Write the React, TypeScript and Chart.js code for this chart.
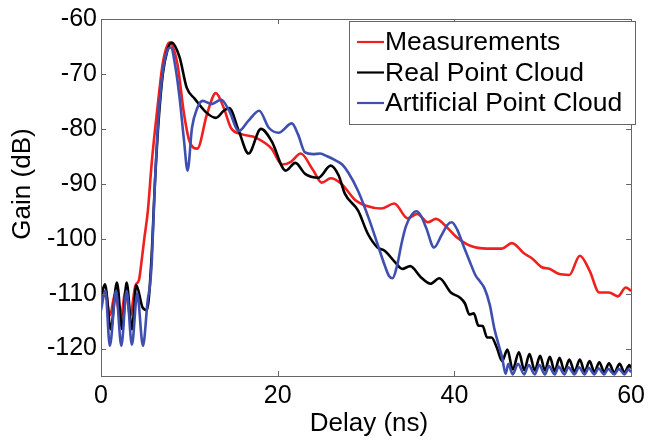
import React, { useEffect, useRef } from "react";
import { Chart, registerables } from "chart.js";

Chart.register(...registerables);

const seriesNames = ["Measurements", "Real Point Cloud", "Artificial Point Cloud"];
const seriesColors = ["#f0201e", "#000000", "#3f4fb0"];

const xTicks = [0, 20, 40, 60];
const yTicks = [-120, -110, -100, -90, -80, -70, -60];

const measT = [0, 0.5, 1.0, 1.6, 2.2, 2.8, 3.3, 3.9, 4.3, 4.6, 4.9, 5.3, 5.75, 6.4, 7.0, 7.75, 8.65, 9.4, 10.0, 10.9, 12.0, 13.0, 13.9, 14.7, 16.0, 17.5, 19.3, 20.5, 21.5, 22.6, 24.0, 25.0, 26.0, 27.2, 28.8, 30.0, 31.7, 33.2, 34.7, 35.8, 37.0, 37.9, 39.2, 40.3, 41.8, 43.7, 45.4, 46.5, 47.9, 48.8, 49.9, 50.8, 51.8, 53.0, 54.2, 55.3, 56.4, 57.5, 58.5, 59.4, 60];
const measG = [-111, -109.5, -114, -110, -114.5, -109.5, -114, -108.5, -107.5, -104, -100, -95, -86, -76, -68, -64.3, -68.2, -77.3, -82.2, -83.6, -77.3, -73.5, -76.2, -79.8, -81, -81.6, -83.6, -86.5, -86, -84.5, -87.5, -89.8, -89, -90, -93, -94, -94.5, -93.6, -96.3, -95.5, -97, -96.4, -98, -99.8, -101.3, -101.8, -101.8, -100.8, -102.7, -103.6, -105.2, -105.5, -106.4, -106.6, -103.1, -105.8, -109.8, -109.8, -110.5, -108.9, -109.5];

const realT = [0, 0.45, 1.1, 1.8, 2.4, 2.9, 3.5, 4.0, 4.7, 5.2, 5.7, 6.1, 6.5, 7.0, 7.5, 8.0, 8.9, 9.7, 10.6, 11.9, 13.0, 13.9, 14.5, 15.6, 16.7, 18.1, 19.3, 20.9, 22.0, 23.1, 24.6, 26.0, 26.9, 27.6, 29.1, 30.2, 31.3, 32.1, 33.3, 34.1, 35.0, 36.2, 37.3, 38.3, 39.6, 40.6, 41.2, 41.7, 42.2, 42.7, 43.2, 43.7, 44.2, 44.8, 45.4, 46.0, 46.6, 47.3, 47.9, 48.5, 49.1, 49.7, 50.25, 50.8, 51.35, 51.9, 52.45, 53.0, 53.6, 54.2, 54.75, 55.3, 55.85, 56.4, 56.95, 57.5, 58.1, 58.7, 59.25, 59.8, 60];
const realG = [-110.5, -108.3, -116.5, -108, -116.5, -108, -116.5, -108.5, -112.5, -113, -104, -90, -79, -70, -65.8, -64.3, -67, -72.5, -74.5, -77, -78, -76.7, -76.2, -80.4, -84.5, -80, -82.2, -87.6, -86.2, -88.2, -88.9, -86.7, -88.5, -91.8, -94.9, -99.1, -101.6, -102.2, -104.3, -105.5, -105, -107, -108.2, -107.2, -109.8, -110.7, -111.8, -113.8, -113.6, -115.8, -115.9, -118, -118, -119.8, -122.3, -120.2, -123.8, -120.7, -123.9, -121, -124, -121.3, -124, -121.5, -124.1, -121.7, -124.1, -122, -124.2, -122, -124.2, -122.3, -124.3, -122.5, -124.3, -122.7, -124.4, -122.8, -124.4, -123, -123.6];

const artT = [0, 0.5, 1.0, 1.7, 2.3, 2.9, 3.5, 4.1, 4.75, 5.3, 5.55, 5.75, 6.1, 6.5, 7.0, 7.5, 7.9, 8.4, 8.9, 9.4, 9.8, 10.3, 10.9, 11.5, 12.5, 13.6, 14.5, 15.6, 16.7, 17.9, 19.0, 20.1, 21.6, 22.3, 23.1, 24.0, 24.8, 25.6, 26.5, 27.3, 28.0, 29.1, 30.4, 31.3, 32.1, 32.6, 33.0, 33.5, 34.0, 34.5, 35.1, 35.7, 36.2, 36.8, 37.7, 38.5, 39.2, 39.7, 40.3, 41.1, 41.7, 42.4, 42.9, 43.4, 44.0, 44.5, 45.0, 45.4, 45.8, 46.1, 46.6, 47.2, 47.9, 48.4, 49.1, 49.6, 50.25, 50.7, 51.35, 51.8, 52.45, 52.9, 53.6, 54.1, 54.75, 55.2, 55.85, 56.3, 56.95, 57.4, 58.1, 58.6, 59.25, 59.7, 60];
const artG = [-113, -109.5, -119.5, -109.5, -119.5, -109.5, -119.3, -110, -119.5, -111, -108.5, -104, -90, -78, -69.5, -65.8, -65.2, -68.5, -74.4, -82.2, -87.6, -79.8, -76.2, -74.9, -75.5, -74.7, -76.7, -80.4, -78.5, -76.7, -79.8, -80.7, -79, -81, -84.3, -84.6, -84.5, -85, -85.7, -86.5, -88, -91.3, -96.7, -101, -104.8, -106.8, -107.2, -105, -101, -97.8, -95.8, -95, -95.8, -98, -101.6, -99.5, -97.5, -97, -98.3, -101.6, -104, -106.7, -107.8, -109, -112, -116.2, -119.3, -121.6, -124.6, -122.8, -124.7, -122.8, -124.7, -123, -124.7, -123, -124.7, -123.2, -124.7, -123.3, -124.7, -123.4, -124.7, -123.4, -124.7, -123.5, -124.7, -123.6, -124.7, -123.7, -124.7, -123.7, -124.7, -123.8, -124.3];

const FONT = "'Liberation Sans', Arial, Helvetica, sans-serif";

const pts = (t: number[], g: number[]) => t.map((v, i) => ({ x: v, y: g[i] }));

const framePlugin = {
  id: "frameLegend",
  afterDraw(chart: any) {
    const { ctx, chartArea } = chart;
    const { left, right, top, bottom } = chartArea;
    const xs = chart.scales.x;
    const ys = chart.scales.y;
    ctx.save();
    ctx.strokeStyle = "#666";
    ctx.lineWidth = 1;
    ctx.strokeRect(Math.round(left) + 0.5, Math.round(top) + 0.5, Math.round(right - left), Math.round(bottom - top));
    const tl = 5;
    ctx.beginPath();
    xTicks.forEach((v) => {
      const px = Math.round(xs.getPixelForValue(v)) + 0.5;
      ctx.moveTo(px, bottom);
      ctx.lineTo(px, bottom - tl);
      ctx.moveTo(px, top);
      ctx.lineTo(px, top + tl);
    });
    yTicks.forEach((v) => {
      const py = Math.round(ys.getPixelForValue(v)) + 0.5;
      ctx.moveTo(left, py);
      ctx.lineTo(left + tl, py);
      ctx.moveTo(right, py);
      ctx.lineTo(right - tl, py);
    });
    ctx.stroke();

    // legend
    const lx = 349.5, ly = 21.5, lw = 286, lh = 103;
    ctx.fillStyle = "#fff";
    ctx.fillRect(lx, ly, lw, lh);
    ctx.strokeStyle = "#666";
    ctx.strokeRect(lx, ly, lw, lh);
    ctx.font = `26.5px ${FONT}`;
    ctx.textBaseline = "middle";
    ctx.textAlign = "left";
    seriesNames.forEach((name, i) => {
      const y = 42 + i * 30.5;
      ctx.strokeStyle = seriesColors[i];
      ctx.lineWidth = 2.2;
      ctx.beginPath();
      ctx.moveTo(357, y);
      ctx.lineTo(384, y);
      ctx.stroke();
      ctx.fillStyle = "#000";
      ctx.fillText(name, 385, y + 1);
    });

    // axis titles
    ctx.fillStyle = "#000";
    ctx.font = `26px ${FONT}`;
    ctx.textAlign = "center";
    ctx.textBaseline = "middle";
    ctx.fillText("Delay (ns)", 369, 424);
    ctx.save();
    ctx.translate(23, 184);
    ctx.rotate(-Math.PI / 2);
    ctx.fillText("Gain (dB)", 0, 0);
    ctx.restore();
    ctx.restore();
  },
};

export default function App() {
  const ref = useRef<HTMLCanvasElement | null>(null);
  useEffect(() => {
    if (!ref.current) return;
    const ds = (i: number, t: number[], g: number[], order: number) => ({
      label: seriesNames[i],
      data: pts(t, g),
      borderColor: seriesColors[i],
      backgroundColor: seriesColors[i],
      borderWidth: 2.6,
      pointRadius: 0,
      cubicInterpolationMode: "monotone" as const,
      fill: false,
      order,
    });
    const chart = new Chart(ref.current, {
      type: "line",
      data: {
        datasets: [ds(0, measT, measG, 3), ds(1, realT, realG, 2), ds(2, artT, artG, 1)],
      },
      options: {
        animation: false,
        responsive: false,
        devicePixelRatio: 1,
        layout: { padding: { top: 18, right: 14, left: 0, bottom: 0 } },
        plugins: { legend: { display: false }, tooltip: { enabled: false } },
        scales: {
          x: {
            type: "linear",
            min: 0,
            max: 60,
            afterBuildTicks: (s: any) => {
              s.ticks = xTicks.map((v) => ({ value: v }));
            },
            afterFit: (s: any) => {
              s.height = 66;
            },
            grid: { display: false, drawTicks: false },
            border: { display: false },
            ticks: { color: "#000", font: { size: 25, family: FONT }, padding: 5, maxRotation: 0 },
          },
          y: {
            type: "linear",
            min: -125,
            max: -60,
            afterBuildTicks: (s: any) => {
              s.ticks = yTicks.map((v) => ({ value: v }));
            },
            afterFit: (s: any) => {
              s.width = 101;
            },
            grid: { display: false, drawTicks: false },
            border: { display: false },
            ticks: { color: "#000", font: { size: 25, family: FONT }, padding: 4 },
          },
        },
      },
      plugins: [framePlugin],
    });
    return () => chart.destroy();
  }, []);
  return (
    <div style={{ position: "absolute", left: 0, top: 0, width: 650, height: 442, background: "#fff" }}>
      <canvas ref={ref} width={650} height={442} style={{ display: "block" }} />
    </div>
  );
}
